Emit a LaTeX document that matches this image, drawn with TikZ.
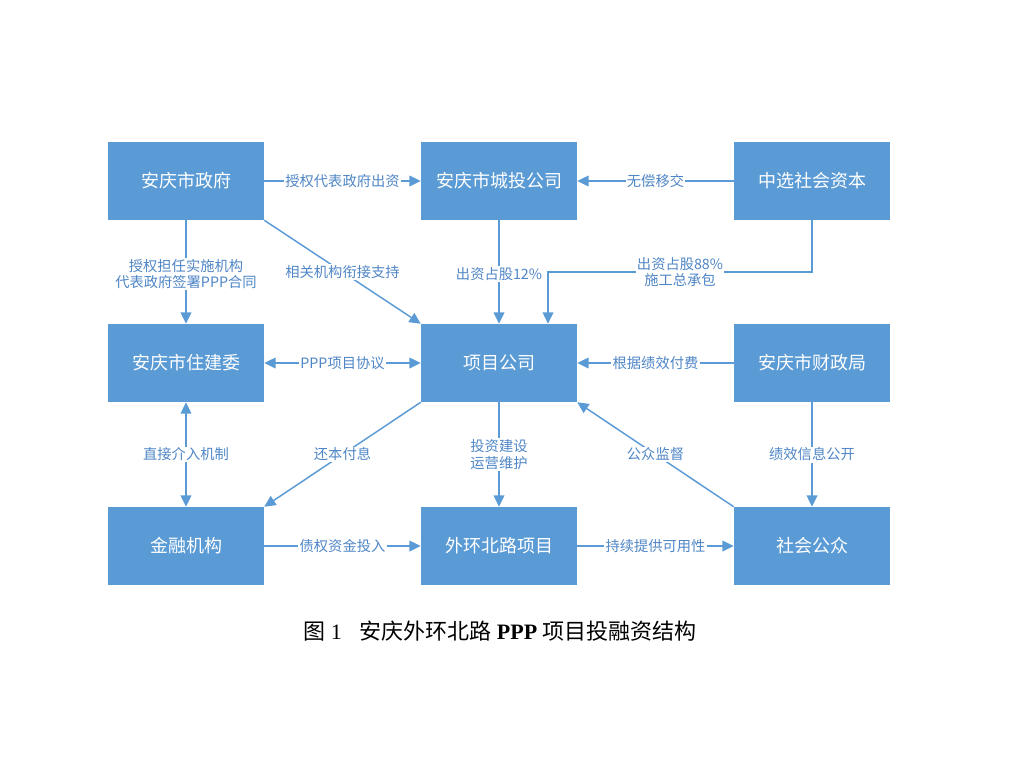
\documentclass[tikz,border=0pt]{standalone}
\usepackage{fontspec}
\setmainfont{Noto Sans CJK SC}
\newfontfamily\serifnum{Liberation Serif}
\usepackage{tikz}
\usetikzlibrary{positioning, arrows.meta}
\definecolor{boxblue}{HTML}{5B9BD5}
\definecolor{lineblue}{HTML}{5B9BD5}
\definecolor{textblue}{HTML}{4F86C6}

\begin{document}
\begin{tikzpicture}[x=0.75pt, y=-0.75pt,
        block/.style={rectangle, fill=boxblue, text=white, minimum width=117pt, minimum height=58.5pt, inner sep=0pt, font=\fontsize{13.5}{16}\selectfont},
        link/.style={draw=lineblue, line width=1.1pt, -{Triangle[length=8.5pt, width=8pt]}},
        twoway/.style={link, {Triangle[length=8.5pt, width=8pt]}-{Triangle[length=8.5pt, width=8pt]}},
        tag/.style={fill=white, text=textblue, inner sep=1pt, align=center, font=\fontsize{10.7}{12.5}\selectfont}]
            \useasboundingbox (0, 0) rectangle (1024, 768);

            \node[block] (gov) at (186, 181) {安庆市政府};
            \node[block] (ctgs) at (499, 181) {安庆市城投公司};
            \node[block] (shzb) at (812, 181) {中选社会资本};
            \node[block] (zjw) at (186, 363) {安庆市住建委};
            \node[block] (xmgs) at (499, 363) {项目公司};
            \node[block] (czj) at (812, 363) {安庆市财政局};
            \node[block] (jrjg) at (186, 546) {金融机构};
            \node[block] (whbl) at (499, 546) {外环北路项目};
            \node[block] (shgz) at (812, 546) {社会公众};
            \coordinate (turn) at (812, 272);
            \coordinate (drop) at (548, 272);

            \draw [link] (gov) -- (ctgs) node [midway, tag] {授权代表政府出资};
            \draw [link] (shzb) -- (ctgs) node [midway, tag] {无偿移交};
            \draw [link] (gov) -- (zjw) node [pos=0.52, tag] {授权担任实施机构\\代表政府签署PPP合同};
            \draw [link] (gov.south east) -- (xmgs.north west) node [midway, tag] {相关机构衔接支持};
            \draw [link] (ctgs) -- (xmgs) node [pos=0.52, tag] {出资占股12\%};
            \draw [link] (shzb.south) -- (turn) -- (drop) node [midway, tag] {出资占股88\%\\施工总承包} -- (drop |- xmgs.north);
            \draw [twoway] (zjw) -- (xmgs) node [midway, tag] {PPP项目协议};
            \draw [link] (czj) -- (xmgs) node [midway, tag] {根据绩效付费};
            \draw [twoway] (zjw) -- (jrjg) node [midway, tag] {直接介入机制};
            \draw [link] (xmgs.south west) -- (jrjg.north east) node [midway, tag] {还本付息};
            \draw [link] (xmgs) -- (whbl) node [midway, tag] {投资建设\\运营维护};
            \draw [link] (shgz.north west) -- (xmgs.south east) node [midway, tag] {公众监督};
            \draw [link] (czj) -- (shgz) node [midway, tag] {绩效信息公开};
            \draw [link] (jrjg) -- (whbl) node [midway, tag] {债权资金投入};
            \draw [link] (whbl) -- (shgz) node [midway, tag] {持续提供可用性};

            \node (caption) at (500, 631) {\fontsize{16.5}{19}\selectfont 图{\serifnum\ 1}\hspace{0.8em}安庆外环北路{\serifnum\bfseries\ PPP\ }项目投融资结构};
        \end{tikzpicture}
\end{document}
